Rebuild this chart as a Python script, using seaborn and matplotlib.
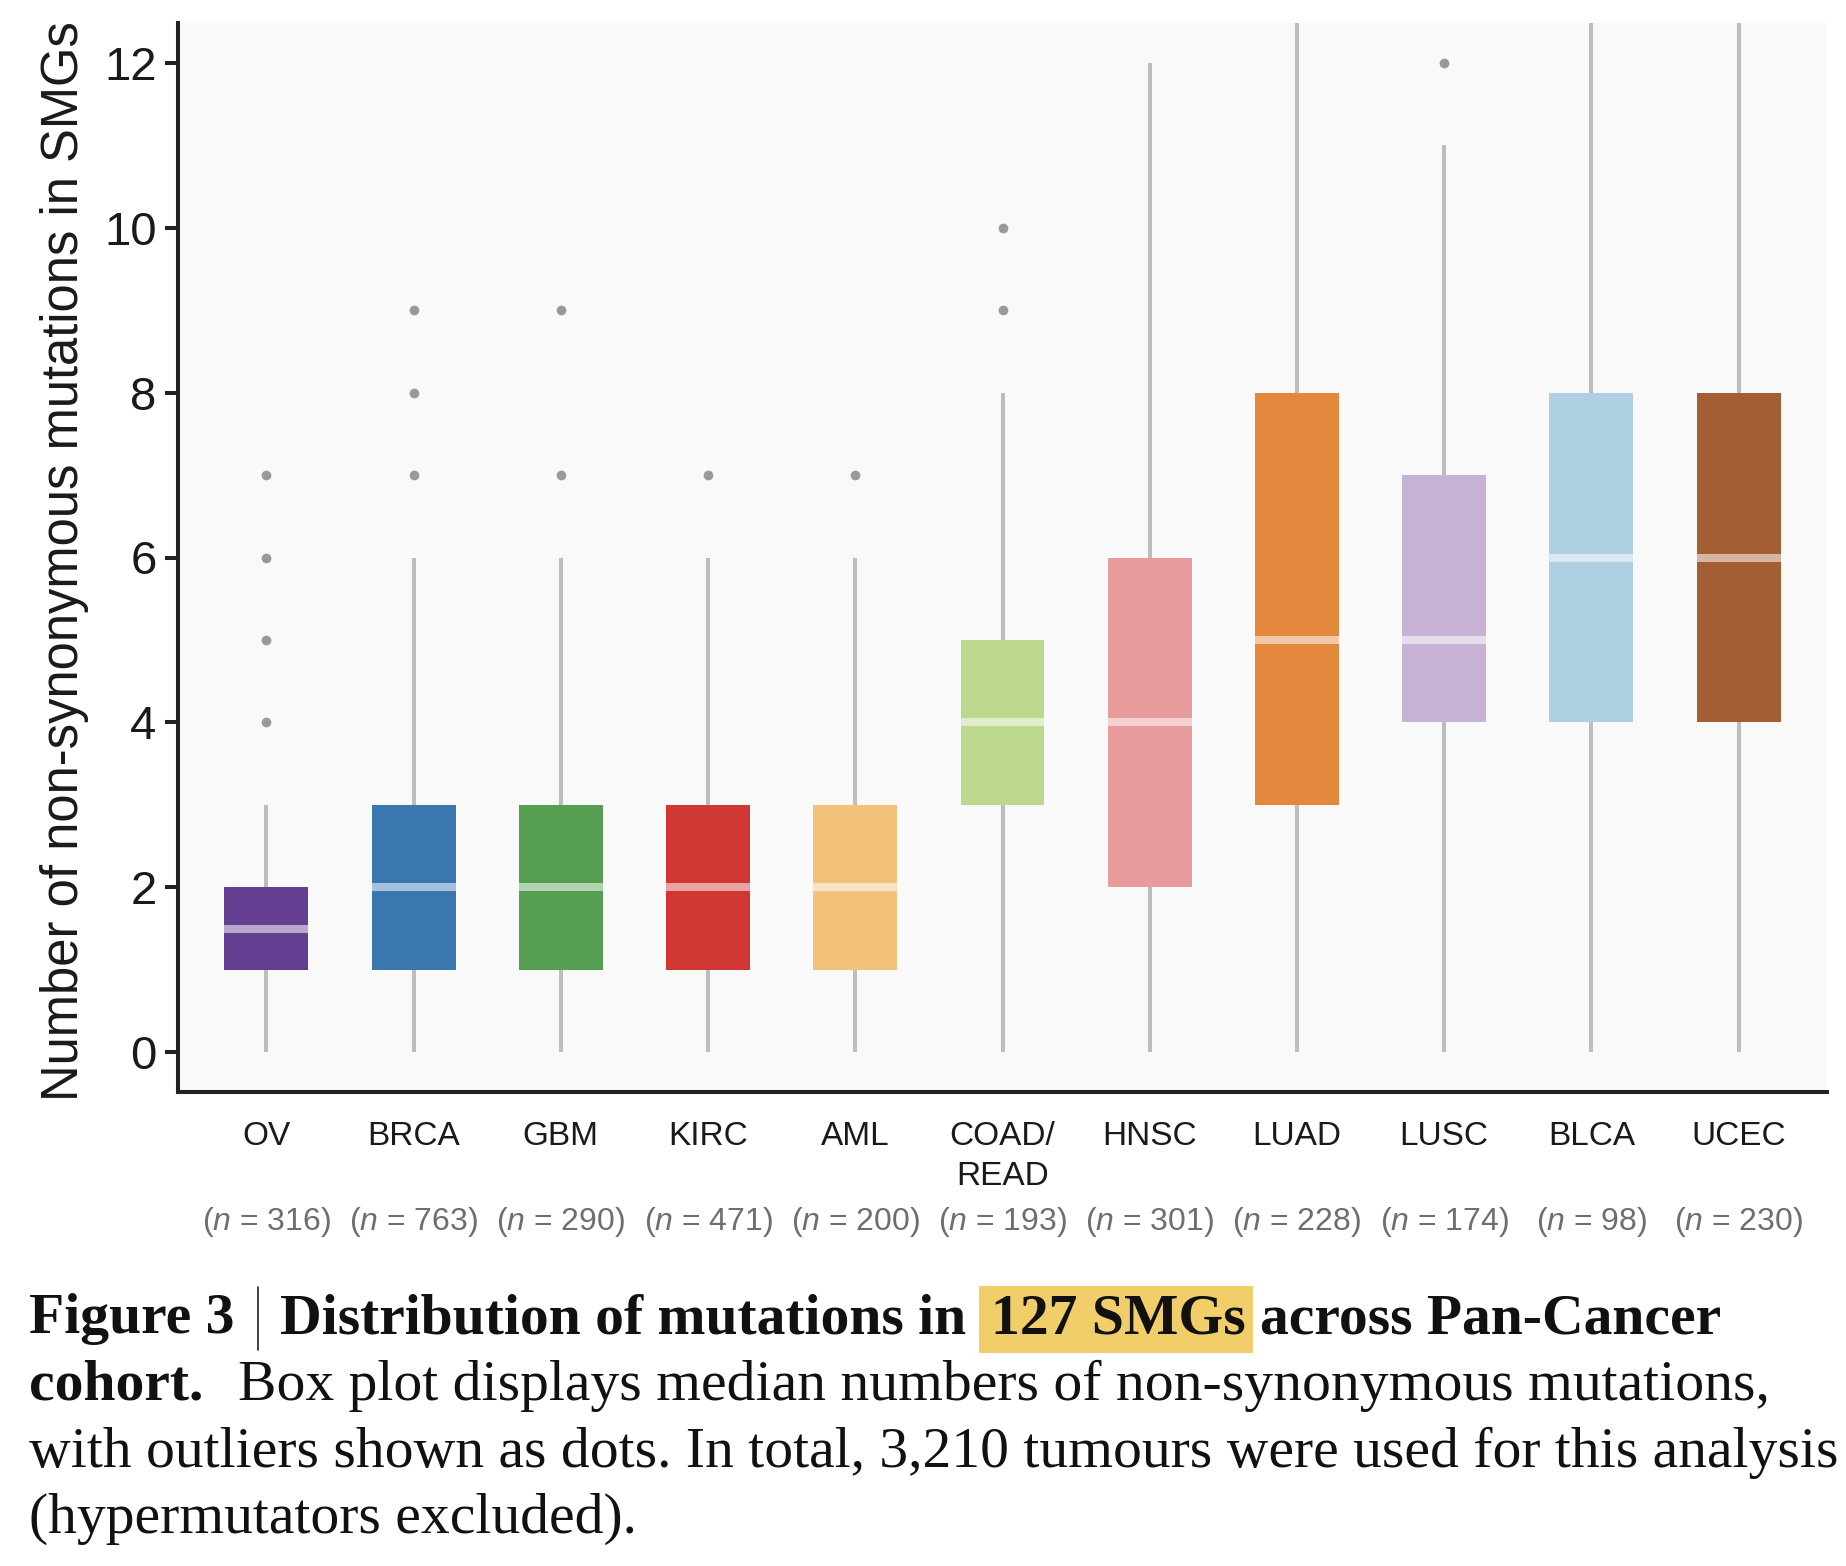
import matplotlib
matplotlib.use("Agg")
import matplotlib.pyplot as plt
from matplotlib.lines import Line2D
from matplotlib.patches import Rectangle
import seaborn as sns

# box plot summaries
cancer_types = ['OV', 'BRCA', 'GBM', 'KIRC', 'AML', 'COAD/\nREAD', 'HNSC', 'LUAD', 'LUSC', 'BLCA', 'UCEC']
n_tumours = [316, 763, 290, 471, 200, 193, 301, 228, 174, 98, 230]
q1 = [1, 1, 1, 1, 1, 3, 2, 3, 4, 4, 4]
medians = [1.5, 2, 2, 2, 2, 4, 4, 5, 5, 6, 6]
q3 = [2, 3, 3, 3, 3, 5, 6, 8, 7, 8, 8]
whisker_lo = [0, 0, 0, 0, 0, 0, 0, 0, 0, 0, 0]
whisker_hi = [3, 6, 6, 6, 6, 8, 12, 15, 11, 14, 14]
outliers = [[4, 5, 6, 7], [7, 8, 9], [7, 9], [7], [7], [9, 10], [], [], [12], [], []]
box_colors = ['#643F91', '#3B77AF', '#559E52', '#D03632', '#F2C27A', '#BCD88F',
              '#E89B9B', '#E3873C', '#C7B2D5', '#AFCFE2', '#A35E34']

caption_lines = [
    'cohort.',
    'Box plot displays median numbers of non-synonymous mutations,',
    'with outliers shown as dots. In total, 3,210 tumours were used for this analysis',
    '(hypermutators excluded).',
]

W, H = 1846, 1566
sns.set_theme(style="ticks")
plt.rcParams['font.family'] = ['Liberation Sans', 'DejaVu Sans']
plt.rcParams['mathtext.fontset'] = 'custom'
plt.rcParams['mathtext.rm'] = 'Liberation Sans'
plt.rcParams['mathtext.it'] = 'Liberation Sans:italic'

fig = plt.figure(figsize=(W / 100, H / 100), dpi=100)
ax = fig.add_axes([178 / W, 1 - 1092 / H, (1827 - 178) / W, (1092 - 23) / H])
ax.set_facecolor('#F9F9F9')

stats = []
for i, name in enumerate(cancer_types):
    stats.append(dict(label=name, q1=q1[i], med=medians[i], q3=q3[i],
                      whislo=whisker_lo[i], whishi=whisker_hi[i], fliers=outliers[i]))

bp = ax.bxp(stats, positions=list(range(len(stats))), widths=0.57, patch_artist=True,
            showcaps=False,
            boxprops=dict(linewidth=0, edgecolor='none'),
            whiskerprops=dict(color='#BDBDBD', linewidth=2.9, solid_capstyle='butt'),
            medianprops=dict(color='white', alpha=0.55, linewidth=5.8, solid_capstyle='butt'),
            flierprops=dict(marker='o', markerfacecolor='#999999', markeredgecolor='none',
                            markersize=7))
for patch, c in zip(bp['boxes'], box_colors):
    patch.set_facecolor(c)

ax.set_xlim(-0.6, 10.6)
ax.set_ylim(-0.48, 12.48)
ax.set_yticks(range(0, 13, 2))
ax.set_xticks(range(len(cancer_types)))
ax.set_xticklabels(cancer_types, linespacing=1.38, color='#1a1a1a')
ax.tick_params(axis='y', length=9.4, width=2.9, color='#222222', labelsize=34, pad=6,
               labelcolor='#1a1a1a')
ax.tick_params(axis='x', length=0, labelsize=24, pad=21)
sns.despine(ax=ax)
for side in ['left', 'bottom']:
    ax.spines[side].set_linewidth(2.9)
    ax.spines[side].set_color('#222222')

ax.set_ylabel('Number of non-synonymous mutations in SMGs', fontsize=36.5, color='#1a1a1a')
ax.yaxis.set_label_coords(-0.054, 0.497)

for i, n in enumerate(n_tumours):
    ax.text(i, -0.1215, rf'($\it{{n}}$ = {n})', transform=ax.get_xaxis_transform(),
            ha='center', va='center', fontsize=23, color='#6E6E6E')

# caption
renderer = fig.canvas.get_renderer()
serif = 'Liberation Serif'


def px_text(x, y, s, **kw):
    t = fig.text(x / W, 1 - y / H, s, va='baseline', ha='left', family=serif,
                 color='#111111', **kw)
    return t.get_window_extent(renderer)


probe = fig.text(0, 0, caption_lines[2], family=serif, fontsize=36)
cap_size = 36 * 1807 / probe.get_window_extent(renderer).width
probe.remove()

probe = fig.text(0, 0, 'a a', family=serif, fontsize=cap_size, weight='bold')
w_sp = probe.get_window_extent(renderer).width
probe.set_text('aa')
sp = w_sp - probe.get_window_extent(renderer).width
probe.remove()

x0 = 29
base = [1333, 1400, 1467, 1533]

x = x0
bb = px_text(x, base[0], 'Figure 3', fontsize=cap_size, weight='bold')
x += bb.width + 23
fig.add_artist(Line2D([x / W, x / W], [1 - 1287 / H, 1 - 1350 / H], color='#222222', lw=1.2))
x += 23
bb = px_text(x, base[0], 'Distribution of mutations in', fontsize=cap_size, weight='bold')
x += bb.width + sp + 10
bb = px_text(x, base[0], '127 SMGs', fontsize=cap_size, weight='bold', zorder=3)
fig.add_artist(Rectangle((bb.x0 / W - 12 / W, 1 - 1353 / H), (bb.width + 19) / W, 67 / H,
                         facecolor='#F2CE6B', edgecolor='none', zorder=1))
x += bb.width + sp
px_text(x, base[0], 'across Pan-Cancer', fontsize=cap_size, weight='bold')

bb = px_text(x0, base[1], caption_lines[0], fontsize=cap_size, weight='bold')
px_text(x0 + bb.width + 35, base[1], caption_lines[1], fontsize=cap_size)
px_text(x0, base[2], caption_lines[2], fontsize=cap_size)
px_text(x0, base[3], caption_lines[3], fontsize=cap_size)

fig.savefig('out.png', dpi=100)
